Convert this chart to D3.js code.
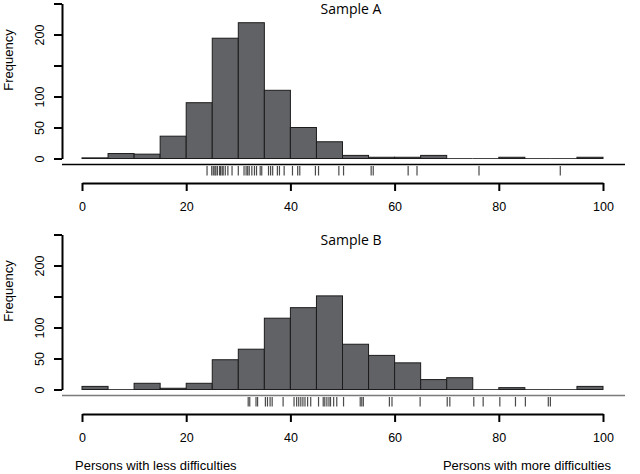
<!DOCTYPE html>
<html>
<head>
<meta charset="utf-8">
<script src="https://cdn.jsdelivr.net/npm/d3@7"></script>
<style>
  html, body { margin: 0; padding: 0; background: #fff; }
  svg { display: block; }
</style>
</head>
<body>
<svg id="chart" width="640" height="474"></svg>
<script>
// ---- data ----
const binStarts = [0,5,10,15,20,25,30,35,40,45,50,55,60,65,70,75,80,85,90,95];
const binWidth = 5;
const countsA = [1,8,7,36,90,194,219,110,50,27,5,2,2,5,0,0,2,0,0,2];
const countsB = [5,0,10,2,10,48,65,115,132,151,73,55,43,16,19,0,3,0,0,5];
const rugA = [24.0,24.9,25.2,25.5,25.7,26.0,26.4,26.6,26.9,27.1,27.5,28.0,28.8,30.0,31.1,31.5,31.8,32.1,32.6,33.1,33.5,34.2,34.5,35.8,36.2,36.6,37.5,37.9,38.8,40.4,41.4,41.8,44.8,45.4,49.3,50.2,55.5,55.9,62.6,64.3,76.2,91.8];
const rugB = [31.9,32.2,33.4,33.7,35.2,35.6,36.1,36.5,38.6,40.7,41.2,41.6,42.0,42.4,42.8,43.3,43.9,45.4,46.3,46.6,47.0,47.4,47.7,48.3,48.9,50.2,53.4,53.7,54.0,59.0,59.5,64.9,70.1,70.6,75.2,77.0,80.2,83.2,85.1,89.5,89.9];
const yTicks = [0,50,100,150,200,250];
const yTickLabels = ["0","50","100","","200",""];
const xTicks = [0,20,40,60,80,100];
const xTickLabels = ["0","20","40","60","80","100"];
const titles = ["Sample A","Sample B"];
const yTitle = "Frequency";
const leftNote = "Persons with less difficulties";
const rightNote = "Persons with more difficulties";

// ---- drawing ----
const svg = d3.select("#chart");
const x = d3.scaleLinear().domain([0,100]).range([82,603]);
const axisFont = "'Liberation Sans', Arial, sans-serif";

const panels = [
  {counts: countsA, rug: rugA, title: titles[0], off: 0, sepColor: "#000"},
  {counts: countsB, rug: rugB, title: titles[1], off: 231, sepColor: "#7a7a7a"}
];

panels.forEach(p => {
  const g = svg.append("g").attr("transform", `translate(0,${p.off})`);
  const y = d3.scaleLinear().domain([0,250]).range([158.5,3.5]);
  const bins = binStarts.map((b,i) => ({b, c: p.counts[i]}));

  // empty bins drawn as flat outlines on the baseline
  g.append("g").selectAll("line")
    .data(bins.filter(d => d.c === 0)).join("line")
    .attr("x1", d => x(d.b)).attr("x2", d => x(d.b + binWidth))
    .attr("y1", y(0)).attr("y2", y(0))
    .attr("stroke", "#444").attr("stroke-width", 1);

  // bars
  g.append("g").selectAll("rect")
    .data(bins.filter(d => d.c > 0))
    .join("rect")
    .attr("x", d => x(d.b))
    .attr("width", d => x(d.b + binWidth) - x(d.b))
    .attr("y", d => y(d.c))
    .attr("height", d => y(0) - y(d.c))
    .attr("fill", "#606265")
    .attr("stroke", "#1c1c1c")
    .attr("stroke-width", 1);

  // y axis
  const ya = g.append("g").attr("transform", "translate(62,0)")
    .call(d3.axisLeft(y).tickValues(yTicks).tickSize(8).tickSizeOuter(0)
      .tickFormat((d,i) => yTickLabels[i]));
  ya.select(".domain").attr("stroke", "#000").attr("stroke-width", 2);
  ya.selectAll(".tick line").attr("stroke", "#000").attr("stroke-width", 2);
  ya.selectAll(".tick text")
    .attr("x", 0).attr("y", -18).attr("dy", 0)
    .attr("transform", "rotate(-90)")
    .attr("text-anchor", "middle")
    .attr("fill", "#000")
    .style("font-family", axisFont).style("font-size", "12.5px");

  // y title
  g.append("text")
    .attr("transform", "translate(13,60) rotate(-90)")
    .attr("text-anchor", "middle")
    .style("font-family", axisFont).style("font-size", "13px")
    .text(yTitle);

  // title
  g.append("text")
    .attr("x", 351).attr("y", 14)
    .attr("text-anchor", "middle")
    .style("font-family", "'Open Sans', 'Noto Sans', sans-serif").style("font-size", "14px")
    .text(p.title);

  // separator line
  g.append("line")
    .attr("x1", 62).attr("x2", 625).attr("y1", 164.5).attr("y2", 164.5)
    .attr("stroke", p.sepColor).attr("stroke-width", 1.5);

  // rug
  g.append("g").selectAll("line")
    .data(p.rug).join("line")
    .attr("x1", d => x(d)).attr("x2", d => x(d))
    .attr("y1", 166).attr("y2", 175.5)
    .attr("stroke", "#2a2a2a").attr("stroke-opacity", 0.85).attr("stroke-width", 1.2);

  // x axis
  const xa = g.append("g").attr("transform", "translate(0,183)")
    .call(d3.axisBottom(x).tickValues(xTicks).tickSize(8).tickSizeOuter(0)
      .tickFormat((d,i) => xTickLabels[i]));
  xa.select(".domain").attr("stroke", "#000").attr("stroke-width", 2);
  xa.selectAll(".tick line").attr("stroke", "#000").attr("stroke-width", 2);
  xa.selectAll(".tick text")
    .attr("y", 19).attr("fill", "#000")
    .style("font-family", axisFont).style("font-size", "12.5px");
});

svg.append("text")
  .attr("x", 75).attr("y", 470)
  .style("font-family", axisFont).style("font-size", "13px")
  .text(leftNote);
svg.append("text")
  .attr("x", 611).attr("y", 470)
  .attr("text-anchor", "end")
  .style("font-family", axisFont).style("font-size", "13px")
  .text(rightNote);
</script>
</body>
</html>
